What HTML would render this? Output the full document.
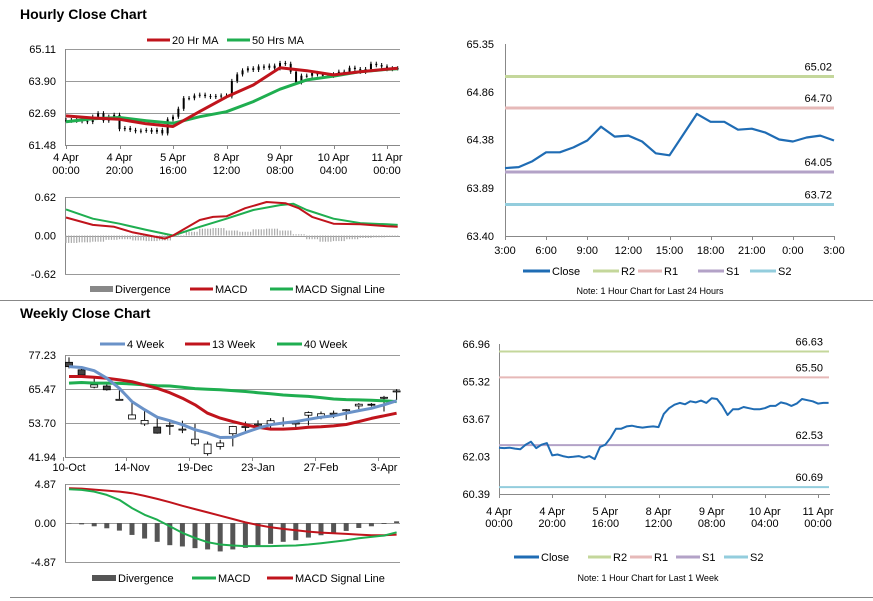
<!DOCTYPE html>
<html><head><meta charset="utf-8">
<style>
html,body{margin:0;padding:0;background:#fff;}
svg{display:block;font-family:"Liberation Sans",Arial,sans-serif;}
.t{font-size:11px;fill:#000;}
.h{font-size:14px;font-weight:bold;fill:#000;}
.n{font-size:9px;fill:#000;}
</style></head>
<body>
<svg id="c" width="873" height="601" viewBox="0 0 873 601" xmlns="http://www.w3.org/2000/svg">
<text class="h" x="20" y="19">Hourly Close Chart</text>
<text class="h" x="20" y="318">Weekly Close Chart</text>
<line x1="0" y1="300.5" x2="873" y2="300.5" stroke="#888"/>
<line x1="10" y1="597.5" x2="873" y2="597.5" stroke="#888"/>
</svg>
<script>
// ---------- data ----------
const hourIdx = [0,2,4,6,8,10,12,14,16,18,20,22,24,26,28,30,32,34,36,38,40,42,44,46,48,50,52,54,56,58,60,62,64,66,68,70,72,74,76,78,80,82,84,86,88,90,92,94,96,98,100,102,104,106,108,110,112,114,116,118,120,122,124];
const weekClose = [62.42,62.40,62.42,62.38,62.35,62.55,62.68,62.40,62.55,62.62,62.08,62.12,62.05,62.00,62.02,62.05,61.98,62.05,61.92,62.45,62.55,62.85,63.25,63.25,63.35,63.38,63.33,63.30,63.33,63.35,63.32,63.90,64.15,64.30,64.38,64.32,64.45,64.40,64.48,64.38,64.58,64.55,64.25,63.85,64.10,64.10,64.20,64.15,64.10,64.10,64.15,64.25,64.25,64.40,64.35,64.25,64.35,64.55,64.50,64.45,64.35,64.38,64.38];
const maIdx = [0,10,20,30,40,50,60,70,80,90,100,110,120,124];
const ma20 = [62.58,62.50,62.45,62.28,62.18,62.75,63.30,63.75,64.40,64.29,64.13,64.25,64.35,64.38];
const ma50 = [62.36,62.47,62.52,62.40,62.30,62.55,62.74,63.12,63.59,63.94,64.08,64.25,64.34,64.36];
const macdIdx = [0,10,18,25,37,40,50,55,60,67,75,82,87,92,100,110,120,124];
const hMacd = [0.29,0.17,0.14,0.05,-0.05,0.00,0.25,0.30,0.31,0.44,0.54,0.52,0.44,0.30,0.19,0.18,0.15,0.14];
const sigIdx = [0,10,20,30,40,50,60,70,80,85,90,100,110,120,124];
const hSignal = [0.42,0.27,0.19,0.09,0.00,0.14,0.27,0.41,0.49,0.51,0.41,0.27,0.20,0.18,0.17];
const divIdx = [0,5,10,15,20,25,30,35,40,45,50,55,60,65,70,75,80,85,90,95,100,105,110,115,120];
const hDiv = [-0.12,-0.11,-0.10,-0.07,-0.06,-0.08,-0.09,-0.08,-0.02,0.06,0.11,0.12,0.08,0.06,0.10,0.11,0.08,0.02,-0.06,-0.10,-0.09,-0.06,-0.04,-0.03,-0.02];
const hourTicks = [[0,"4 Apr","00:00"],[20,"4 Apr","20:00"],[40,"5 Apr","16:00"],[60,"8 Apr","12:00"],[80,"9 Apr","08:00"],[100,"10 Apr","04:00"],[120,"11 Apr","00:00"]];
const dayClose = [64.09,64.10,64.16,64.25,64.25,64.30,64.37,64.51,64.41,64.42,64.36,64.24,64.22,64.43,64.64,64.56,64.56,64.48,64.49,64.45,64.38,64.36,64.40,64.42,64.37];
const dayTicks = ["3:00","6:00","9:00","12:00","15:00","18:00","21:00","0:00","3:00"];
const dayLevels = [65.02,64.70,64.05,63.72];
const weekLevels = [66.63,65.50,62.53,60.69];
const wOpen  = [74.7,72.1,66.1,66.5,61.9,55.1,53.4,52.3,52.9,51.6,46.5,43.1,45.6,50.0,52.5,53.3,53.4,53.9,53.7,56.4,55.9,57.1,58.0,59.6,60.2,62.6,64.8];
const wClose = [73.2,70.3,66.9,65.2,61.9,56.5,54.6,50.2,52.9,51.6,48.1,46.4,46.8,52.5,52.5,53.3,54.5,53.9,53.7,57.3,56.9,57.1,58.3,60.2,60.0,62.6,64.8];
const wHigh  = [76.4,72.6,69.8,67.5,65.4,61.7,57.9,55.4,54.6,54.5,53.4,47.3,47.9,52.7,54.2,54.6,55.4,55.7,54.6,57.7,57.7,58.0,58.5,60.6,60.6,63.1,65.4];
const wLow   = [72.6,70.0,65.7,64.9,61.5,55.0,52.7,50.0,49.6,50.2,45.8,42.4,44.5,45.6,50.2,51.9,51.4,52.5,51.9,52.9,55.0,55.4,54.8,58.5,59.4,57.7,61.7];
const w4  = [73.2,72.9,71.8,69.2,65.7,61.1,58.3,55.7,54.5,53.1,51.4,50.2,48.7,48.8,50.4,51.9,53.1,53.7,54.2,55.0,55.7,56.2,57.1,58.0,58.8,60.0,61.4];
const w13 = [69.8,69.8,69.5,69.2,68.6,68.0,66.9,65.7,64.2,62.3,60.0,57.1,55.4,54.2,53.1,52.2,51.6,51.6,51.8,52.2,52.4,52.7,53.2,54.2,55.3,56.2,57.1];
const w40 = [67.5,67.7,67.5,67.5,67.4,67.2,66.9,66.6,66.5,66.1,65.6,65.4,65.2,64.9,64.6,64.2,63.8,63.4,63.1,62.9,62.5,62.0,61.8,61.7,61.6,61.4,61.1];
const wMacd = [4.21,4.13,3.92,3.51,2.89,1.86,1.03,0.41,-0.41,-1.24,-1.86,-2.40,-2.68,-2.81,-2.89,-2.89,-2.89,-2.85,-2.81,-2.68,-2.52,-2.35,-2.15,-1.90,-1.73,-1.57,-1.16];
const wSignal = [4.34,4.30,4.17,4.05,3.92,3.72,3.39,3.01,2.60,2.15,1.73,1.32,0.91,0.50,0.08,-0.25,-0.54,-0.74,-0.91,-1.07,-1.20,-1.28,-1.36,-1.45,-1.53,-1.53,-1.45];
const wDiv = [-0.05,-0.17,-0.41,-0.66,-0.95,-1.49,-1.94,-2.35,-2.77,-2.93,-3.14,-3.30,-3.55,-3.30,-3.10,-2.89,-2.60,-2.35,-2.15,-1.82,-1.53,-1.24,-0.99,-0.62,-0.41,-0.12,0.21];
const weekTicks = [[0,"10-Oct"],[5,"14-Nov"],[10,"19-Dec"],[15,"23-Jan"],[20,"27-Feb"],[25,"3-Apr"]];

// ---------- helpers ----------
const svg = document.getElementById('c');
const NS = 'http://www.w3.org/2000/svg';
function mk(tag, attrs, name, inter) {
  const el = document.createElementNS(NS, tag);
  for (const k in attrs) el.setAttribute(k, attrs[k]);
  
  
  svg.appendChild(el);
  return el;
}
function txt(x, y, s, name, anchor, cls) {
  const el = mk('text', {x: x, y: y, 'text-anchor': anchor || 'start', class: cls || 't'}, name);
  el.textContent = s;
  return el;
}
function lin(d0, d1, r0, r1) { return v => r0 + (v - d0) * (r1 - r0) / (d1 - d0); }
function poly(xs, ys, fx, fy, color, w, name) {
  const pts = xs.map((x, i) => fx(x).toFixed(1) + ',' + fy(ys[i]).toFixed(1)).join(' ');
  return mk('polyline', {points: pts, fill: 'none', stroke: color, 'stroke-width': w, 'stroke-linejoin': 'round'}, name);
}
function hline(x1, x2, y, color, name, w) {
  return mk('line', {x1: x1, x2: x2, y1: y, y2: y, stroke: color, 'stroke-width': w || 1}, name);
}
function vline(x, y1, y2, color, name) {
  return mk('line', {x1: x, x2: x, y1: y1, y2: y2, stroke: color, 'stroke-width': 1}, name);
}
function legLine(x1, x2, y, color, label, name) {
  hline(x1, x2, y, color, name + '-swatch', 3);
  txt(x2 + 2, y + 4, label, name + '-label');
}
function legBox(x1, x2, y, color, label, name) {
  mk('rect', {x: x1, y: y - 3, width: x2 - x1, height: 6, fill: color}, name + '-swatch');
  txt(x2 + 2, y + 4, label, name + '-label');
}
const RED = '#c0141c', GREEN = '#1fae50', BLUE = '#6a92c8', CLOSE = '#1f6cb4';
const R2C = '#c4d79b', R1C = '#e6b9b8', S1C = '#b3a2c7', S2C = '#93cddd';

// ---------- Panel 1: hourly candles ----------
{
  const fx = lin(0, 120, 66, 387), fy = lin(61.48, 65.11, 145, 49);
  [65.11, 63.90, 62.69, 61.48].forEach(v => {
    hline(65, 400, Math.round(fy(v)) + 0.5, v === 61.48 ? '#888' : '#999', 'hourly-gridline');
    txt(56, fy(v) + 4, v.toFixed(2), 'hourly-y-tick', 'end');
  });
  vline(65.5, 49, 145, '#888', 'hourly-y-axis');
  hourTicks.forEach(t => {
    vline(Math.round(fx(t[0])) + 0.5, 145, 149, '#888', 'hourly-x-tickmark');
    txt(fx(t[0]), 161, t[1], 'hourly-x-tick-date', 'middle');
    txt(fx(t[0]), 174, t[2], 'hourly-x-tick-time', 'middle');
  });
  weekClose.forEach((c, i) => {
    const o = i ? weekClose[i - 1] : c;
    const x = fx(hourIdx[i]);
    const hi = Math.max(o, c) + 0.08, lo = Math.min(o, c) - 0.08;
    vline(x, fy(hi), fy(lo), '#000', 'hourly-candle-wick');
    mk('rect', {x: x - 1, y: fy(Math.max(o, c)), width: 2, height: Math.max(1, Math.abs(fy(o) - fy(c))), fill: '#000'}, 'hourly-candle');
  });
  poly(maIdx, ma50, fx, fy, GREEN, 3, 'ma50-line');
  poly(maIdx, ma20, fx, fy, RED, 3, 'ma20-line');
  legLine(147, 170, 40, RED, '20 Hr MA', 'legend-ma20');
  legLine(227, 250, 40, GREEN, '50 Hrs MA', 'legend-ma50');
}
// ---------- Panel 2: hourly MACD ----------
{
  const fx = lin(0, 120, 66, 387), fy = lin(-0.62, 0.62, 274, 197);
  [0.62, 0, -0.62].forEach(v => {
    hline(65, 400, Math.round(fy(v)) + 0.5, '#999', 'hourly-macd-gridline');
    txt(56, fy(v) + 4, v.toFixed(2), 'hourly-macd-y-tick', 'end');
  });
  vline(65.5, 197, 274, '#888', 'hourly-macd-y-axis');
  hDiv.forEach((d, i) => {
    for (let k = 0; k < 5 && divIdx[i] + k <= 124; k += 1) {
      const x = fx(divIdx[i] + k);
      mk('rect', {x: x - 0.6, y: Math.min(fy(0), fy(d)), width: 1.2, height: Math.abs(fy(d) - fy(0)), fill: '#aaa'}, 'hourly-divergence-bar');
    }
  });
  poly(sigIdx, hSignal, fx, fy, GREEN, 2, 'hourly-macd-signal-line');
  poly(macdIdx, hMacd, fx, fy, RED, 2, 'hourly-macd-line');
  legBox(90, 113, 289, '#888', 'Divergence', 'legend-hourly-divergence');
  legLine(190, 213, 289, RED, 'MACD', 'legend-hourly-macd');
  legLine(270, 293, 289, GREEN, 'MACD Signal Line', 'legend-hourly-signal');
}
// ---------- Panel 3: weekly candles ----------
{
  const fx = lin(0, 25, 69, 384), fy = lin(41.94, 77.23, 457, 355);
  [77.23, 65.47, 53.70, 41.94].forEach(v => {
    hline(65, 400, Math.round(fy(v)) + 0.5, v === 41.94 ? '#888' : '#999', 'weekly-gridline');
    txt(56, fy(v) + 4, v.toFixed(2), 'weekly-y-tick', 'end');
  });
  vline(65.5, 355, 457, '#888', 'weekly-y-axis');
  weekTicks.forEach(t => {
    vline(Math.round(fx(t[0])) - 5.5, 457, 461, '#888', 'weekly-x-tickmark');
    txt(fx(t[0]), 471, t[1], 'weekly-x-tick', 'middle');
  });
  wOpen.forEach((o, i) => {
    const c = wClose[i], x = fx(i);
    vline(x, fy(wHigh[i]), fy(wLow[i]), '#000', 'weekly-candle-wick');
    mk('rect', {x: x - 3.5, y: fy(Math.max(o, c)), width: 7, height: Math.max(1, Math.abs(fy(o) - fy(c))), fill: c < o ? '#444' : '#fff', stroke: '#000', 'stroke-width': 0.8}, 'weekly-candle');
  });
  const idx = wOpen.map((_, i) => i);
  poly(idx, w40, fx, fy, GREEN, 3, 'ma40-week-line');
  poly(idx, w13, fx, fy, RED, 3, 'ma13-week-line');
  poly(idx, w4, fx, fy, BLUE, 3, 'ma4-week-line');
  legLine(100, 125, 344, BLUE, '4 Week', 'legend-4-week');
  legLine(185, 210, 344, RED, '13 Week', 'legend-13-week');
  legLine(277, 302, 344, GREEN, '40 Week', 'legend-40-week');
}
// ---------- Panel 4: weekly MACD ----------
{
  const fx = lin(0, 25, 69, 384), fy = lin(-4.87, 4.87, 562, 484);
  [4.87, 0, -4.87].forEach(v => {
    hline(65, 400, Math.round(fy(v)) + 0.5, '#999', 'weekly-macd-gridline');
    txt(56, fy(v) + 4, v.toFixed(2), 'weekly-macd-y-tick', 'end');
  });
  vline(65.5, 484, 562, '#888', 'weekly-macd-y-axis');
  wDiv.forEach((d, i) => {
    mk('rect', {x: fx(i) - 2.5, y: Math.min(fy(0), fy(d)), width: 5, height: Math.abs(fy(d) - fy(0)), fill: '#555'}, 'weekly-divergence-bar');
  });
  const idx = wMacd.map((_, i) => i);
  poly(idx, wSignal, fx, fy, RED, 2, 'weekly-macd-signal-line');
  poly(idx, wMacd, fx, fy, GREEN, 2, 'weekly-macd-line');
  legBox(92, 116, 578, '#555', 'Divergence', 'legend-weekly-divergence');
  legLine(192, 216, 578, GREEN, 'MACD', 'legend-weekly-macd');
  legLine(267, 293, 578, RED, 'MACD Signal Line', 'legend-weekly-signal');
}
// ---------- Panel 5: last 24 hours ----------
{
  const fx = lin(0, 24, 505, 834), fy = lin(63.40, 65.35, 236, 44);
  [65.35, 64.86, 64.38, 63.89, 63.40].forEach(v => {
    txt(494, fy(v) + 4, v.toFixed(2), 'day-y-tick', 'end', 't');
  });
  vline(505.5, 44, 236, '#888', 'day-y-axis');
  hline(505, 834, 236.5, '#888', 'day-x-axis');
  dayTicks.forEach((s, i) => {
    vline(Math.round(fx(i * 3)) + 0.5, 236, 240, '#888', 'day-x-tickmark');
    txt(fx(i * 3), 254, s, 'day-x-tick', 'middle');
  });
  const cols = [R2C, R1C, S1C, S2C], nm = ['r2', 'r1', 's1', 's2'];
  dayLevels.forEach((v, i) => {
    hline(505, 834, fy(v), cols[i], 'day-' + nm[i] + '-line', 3);
    txt(832, fy(v) - 6, v.toFixed(2), 'day-' + nm[i] + '-label', 'end');
  });
  poly(dayClose.map((_, i) => i), dayClose, fx, fy, CLOSE, 2.2, 'day-close-line');
  legLine(523, 550, 271, CLOSE, 'Close', 'legend-day-close');
  legLine(593, 619, 271, R2C, 'R2', 'legend-day-r2');
  legLine(638, 662, 271, R1C, 'R1', 'legend-day-r1');
  legLine(698, 724, 271, S1C, 'S1', 'legend-day-s1');
  legLine(750, 776, 271, S2C, 'S2', 'legend-day-s2');
  txt(650, 294, 'Note: 1 Hour Chart for Last 24 Hours', 'day-note', 'middle', 'n');
}
// ---------- Panel 6: last 1 week ----------
{
  const fx = lin(0, 120, 499, 818), fy = lin(60.39, 66.96, 494, 344);
  [66.96, 65.32, 63.67, 62.03, 60.39].forEach(v => {
    txt(490, fy(v) + 4, v.toFixed(2), 'week-y-tick', 'end');
  });
  vline(499.5, 344, 494, '#888', 'week-y-axis');
  hline(499, 830, 494.5, '#888', 'week-x-axis');
  hourTicks.forEach(t => {
    vline(Math.round(fx(t[0])) + 0.5, 494, 498, '#888', 'week-x-tickmark');
    txt(fx(t[0]), 515, t[1], 'week-x-tick-date', 'middle');
    txt(fx(t[0]), 527, t[2], 'week-x-tick-time', 'middle');
  });
  const cols = [R2C, R1C, S1C, S2C], nm = ['r2', 'r1', 's1', 's2'];
  weekLevels.forEach((v, i) => {
    hline(499, 829, fy(v), cols[i], 'week-' + nm[i] + '-line', 2);
    txt(823, fy(v) - 6, v.toFixed(2), 'week-' + nm[i] + '-label', 'end');
  });
  poly(hourIdx, weekClose, fx, fy, CLOSE, 2, 'week-close-line');
  legLine(514, 539, 557, CLOSE, 'Close', 'legend-week-close');
  legLine(588, 611, 557, R2C, 'R2', 'legend-week-r2');
  legLine(630, 652, 557, R1C, 'R1', 'legend-week-r1');
  legLine(676, 700, 557, S1C, 'S1', 'legend-week-s1');
  legLine(724, 748, 557, S2C, 'S2', 'legend-week-s2');
  txt(648, 581, 'Note: 1 Hour Chart for Last 1 Week', 'week-note', 'middle', 'n');
}
</script>
</body></html>
